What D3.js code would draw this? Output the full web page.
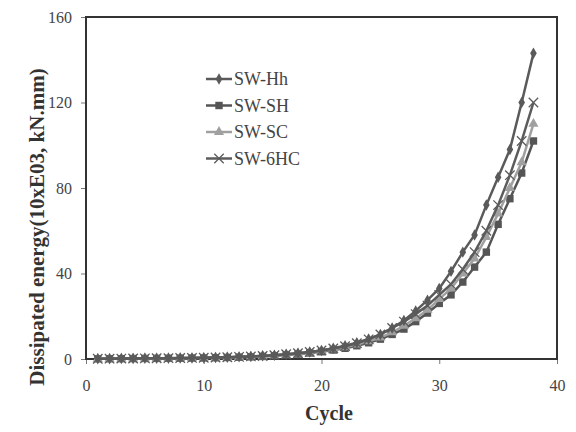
<!DOCTYPE html>
<html>
<head>
<meta charset="utf-8">
<script src="https://cdn.jsdelivr.net/npm/d3@7"></script>
<style>
  body { margin: 0; background: #fff; }
  svg { font-family: "Liberation Serif", "DejaVu Serif", serif; }
</style>
</head>
<body>
<svg id="chart" width="576" height="432"></svg>
<script>
// cycles 1..38
var cycles = d3.range(1, 39);

// dissipated energy per cycle
var swHh  = [0.1,0.15,0.2,0.25,0.3,0.35,0.4,0.45,0.5,0.6,0.7,0.85,1.0,1.2,1.5,1.8,2.2,2.7,3.3,4.0,5.0,6.2,7.6,9.4,11.5,14.5,18,22.5,27.5,33,41,50,58,72,85,98,120,143];
var swSH  = [0.1,0.12,0.15,0.2,0.25,0.3,0.35,0.4,0.45,0.5,0.6,0.7,0.85,1.0,1.2,1.5,1.9,2.3,2.8,3.4,4.2,5.0,6.2,7.6,9.3,11.5,14,17.5,21.5,26,30,36,43,50,63,75,87,102];
var swSC  = [0.1,0.12,0.15,0.2,0.25,0.3,0.35,0.4,0.45,0.55,0.65,0.75,0.9,1.1,1.3,1.6,2.0,2.5,3.0,3.7,4.5,5.5,6.8,8.3,10,12.5,15.5,19,23,28,33,40,47,57,68,80,92,110];
var sw6HC = [0.1,0.15,0.2,0.25,0.3,0.35,0.4,0.45,0.5,0.6,0.7,0.8,1.0,1.2,1.4,1.8,2.2,2.7,3.3,4.0,4.9,6.0,7.4,9.2,11.5,14.5,17.5,21,25,30,35,42,50,60,72,86,102,120];

var seriesNames = ["SW-Hh", "SW-SH", "SW-SC", "SW-6HC"];
var seriesVals  = [swHh, swSH, swSC, sw6HC];
var seriesColor = ["#5a5a5a", "#555555", "#a0a0a0", "#5c5c5c"];
var seriesMark  = ["diamond", "square", "triangle", "cross"];

var xTicks = [0, 10, 20, 30, 40];
var yTicks = [0, 40, 80, 120, 160];

var svg = d3.select("#chart");
var pLeft = 86, pRight = 557, pTop = 17, pBottom = 359;

var x = d3.scaleLinear().domain([0, 40]).range([pLeft, pRight]);
var y = d3.scaleLinear().domain([0, 160]).range([pBottom, pTop]);

// axes
var xAxis = svg.append("g")
    .attr("transform", "translate(0," + pBottom + ")")
    .call(d3.axisBottom(x).tickValues(xTicks).tickSize(5).tickPadding(16));
var yAxis = svg.append("g")
    .attr("transform", "translate(" + pLeft + ",0)")
    .call(d3.axisLeft(y).tickValues(yTicks).tickSize(5).tickPadding(9));
[xAxis, yAxis].forEach(function(a) {
  a.select(".domain").remove();
  a.selectAll("line").attr("stroke", "#777").attr("stroke-width", 1);
  a.selectAll("text").attr("fill", "#444").style("font-size", "16px")
    .style("font-family", "Liberation Serif, serif");
});

// frame
svg.append("rect")
    .attr("x", pLeft).attr("y", pTop)
    .attr("width", pRight - pLeft).attr("height", pBottom - pTop)
    .attr("fill", "none").attr("stroke", "#333").attr("stroke-width", 2);

function symbolFor(kind) {
  if (kind == "diamond") return d3.symbol().type(d3.symbolDiamond).size(38)();
  if (kind == "square") return d3.symbol().type(d3.symbolSquare).size(55)();
  if (kind == "triangle") return d3.symbol().type(d3.symbolTriangle).size(45)();
  return d3.symbol().type(d3.symbolX).size(60)();
}

var line = d3.line()
    .x(function(d) { return x(d[0]); })
    .y(function(d) { return y(d[1]); });

function drawMark(g, kind, color, px, py) {
  var p = g.append("path")
      .attr("d", symbolFor(kind))
      .attr("transform", "translate(" + px + "," + py + ")");
  if (kind == "cross") p.attr("fill", "none").attr("stroke", color).attr("stroke-width", 1.3);
  else p.attr("fill", color);
}

// draw series (Hh on top at end)
var order = [1, 2, 3, 0];
order.forEach(function(i) {
  var pts = cycles.map(function(c, k) { return [c, seriesVals[i][k]]; });
  var g = svg.append("g");
  g.append("path").datum(pts)
      .attr("d", line)
      .attr("fill", "none")
      .attr("stroke", seriesColor[i])
      .attr("stroke-width", 2.5);
  pts.forEach(function(p) {
    drawMark(g, seriesMark[i], seriesColor[i], x(p[0]), y(p[1]));
  });
});

// legend
var lg = svg.append("g");
seriesNames.forEach(function(name, i) {
  var ly = 79 + i * 26.5;
  lg.append("line")
      .attr("x1", 206).attr("x2", 232)
      .attr("y1", ly).attr("y2", ly)
      .attr("stroke", seriesColor[i]).attr("stroke-width", 2.5);
  drawMark(lg, seriesMark[i], seriesColor[i], 219, ly);
  lg.append("text")
      .attr("x", 234).attr("y", ly + 6)
      .attr("fill", "#444")
      .style("font-size", "18px")
      .text(name);
});

// axis titles
svg.append("text")
    .attr("x", 329).attr("y", 420)
    .attr("text-anchor", "middle")
    .attr("fill", "#333")
    .style("font-size", "20px").style("font-weight", "bold")
    .text("Cycle");
svg.append("text")
    .attr("transform", "translate(44,227) rotate(-90)")
    .attr("text-anchor", "middle")
    .attr("fill", "#333")
    .style("font-size", "21px").style("font-weight", "bold")
    .text("Dissipated energy(10xE03, kN.mm)");
</script>
</body>
</html>
